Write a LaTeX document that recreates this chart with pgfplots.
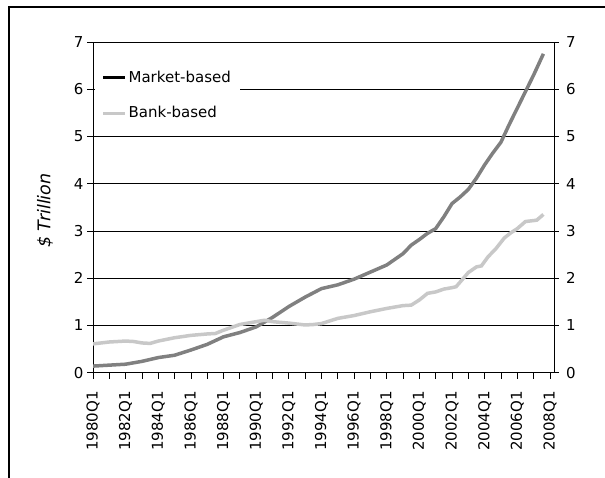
\documentclass[border=0pt]{standalone}
\usepackage{fontspec}
\setmainfont{DejaVu Sans}
\usepackage{pgfplots}
\pgfplotsset{compat=1.18}

\definecolor{mktgray}{RGB}{128,128,128}
\definecolor{bnkgray}{RGB}{200,200,200}

\newcommand{\chartfont}{\fontsize{15pt}{17pt}\selectfont}

% market-based and bank-based assets, $ trillion (x = year)
\pgfplotstableread{
year value
1980.0 0.14
1981.0 0.16
1982.0 0.18
1983.0 0.24
1984.0 0.32
1985.0 0.37
1986.0 0.48
1987.0 0.60
1988.0 0.76
1989.0 0.85
1990.0 0.97
1990.5 1.07
1991.0 1.17
1992.0 1.40
1993.0 1.60
1994.0 1.78
1995.0 1.86
1996.0 1.98
1997.0 2.13
1998.0 2.28
1999.0 2.52
1999.5 2.70
2000.0 2.82
2000.5 2.95
2001.0 3.05
2001.5 3.30
2002.0 3.58
2002.5 3.72
2003.0 3.88
2003.5 4.12
2004.0 4.40
2004.5 4.65
2005.0 4.88
2005.5 5.25
2006.0 5.60
2006.5 5.95
2007.0 6.30
2007.6 6.75
}\market

\pgfplotstableread{
year value
1980.0 0.61
1981.0 0.65
1982.0 0.67
1982.5 0.66
1983.0 0.63
1983.5 0.62
1984.0 0.67
1985.0 0.74
1986.0 0.79
1987.0 0.82
1987.5 0.83
1988.0 0.90
1989.0 1.02
1990.0 1.08
1990.5 1.11
1991.0 1.08
1992.0 1.05
1993.0 1.01
1993.5 1.02
1994.0 1.04
1995.0 1.15
1996.0 1.21
1997.0 1.29
1998.0 1.36
1999.0 1.42
1999.5 1.43
2000.0 1.54
2000.5 1.68
2001.0 1.71
2001.5 1.77
2002.0 1.80
2002.25 1.82
2002.7 2.00
2003.0 2.12
2003.5 2.24
2003.8 2.26
2004.2 2.45
2004.7 2.63
2005.2 2.85
2005.6 2.96
2006.0 3.05
2006.5 3.20
2007.0 3.22
2007.2 3.23
2007.6 3.35
}\bank

\begin{document}
\begin{tikzpicture}
\useasboundingbox (0pt,0pt) rectangle (605pt,477pt);
% outer frame, cut off at right and bottom
\draw[line width=1.6pt] (9pt,-10pt) -- (9pt,470pt) -- (620pt,470pt);

\begin{axis}[
    at={(93pt,104.3pt)}, anchor=south west,
    scale only axis, width=461pt, height=330.7pt,
    xmin=1980, xmax=2008.25,
    ymin=0, ymax=7,
    axis y line*=left, axis x line*=bottom,
    axis line style={line width=1pt, black, -},
    xtick={1980,1982,...,2008},
    xticklabels={1980Q1,1982Q1,1984Q1,1986Q1,1988Q1,1990Q1,1992Q1,1994Q1,1996Q1,1998Q1,2000Q1,2002Q1,2004Q1,2006Q1,2008Q1},
    minor xtick={1981,1983,...,2007},
    ytick={0,1,...,7},
    ymajorgrids,
    major grid style={black, line width=0.8pt},
    tick align=outside,
    major tick length=6pt, minor tick length=6pt,
    tick style={black, line width=0.8pt},
    xticklabel style={rotate=90, anchor=east, font=\chartfont},
    xticklabel shift=9pt,
    yticklabel style={font=\chartfont},
    /pgf/number format/assume math mode=true,
    ylabel={\itshape \$ Trillion},
    ylabel style={at={(axis description cs:-0.104,0.49)}, anchor=center,
        font=\fontsize{17.5pt}{20pt}\selectfont},
    legend style={draw=none, fill=white, at={(rel axis cs:0.003,0.935)}, anchor=north west,
        font=\chartfont, inner xsep=7pt, inner ysep=5pt, row sep=19pt},
    legend cell align=left,
    legend image code/.code={\draw[#1] (0pt,0pt) -- (22pt,0pt);},
]
\addplot[mktgray, line width=3.5pt, forget plot] table[x=year, y=value] {\market};
\addplot[bnkgray, line width=3.5pt, forget plot] table[x=year, y=value] {\bank};
\addlegendimage{black, line width=3pt}
\addlegendentry{Market-based}
\addlegendimage{bnkgray, line width=3pt}
\addlegendentry{Bank-based}
\end{axis}

% right-hand scale
\begin{axis}[
    at={(93pt,104.3pt)}, anchor=south west,
    scale only axis, width=461pt, height=330.7pt,
    xmin=1980, xmax=2008.25,
    ymin=0, ymax=7,
    axis y line*=right, axis x line=none,
    axis line style={line width=1pt, black, -},
    ytick={0,1,...,7},
    tick align=center, major tick length=9pt,
    tick style={black, line width=0.8pt},
    yticklabel style={font=\chartfont, xshift=4pt},
    /pgf/number format/assume math mode=true,
]
\end{axis}
\end{tikzpicture}
\end{document}
